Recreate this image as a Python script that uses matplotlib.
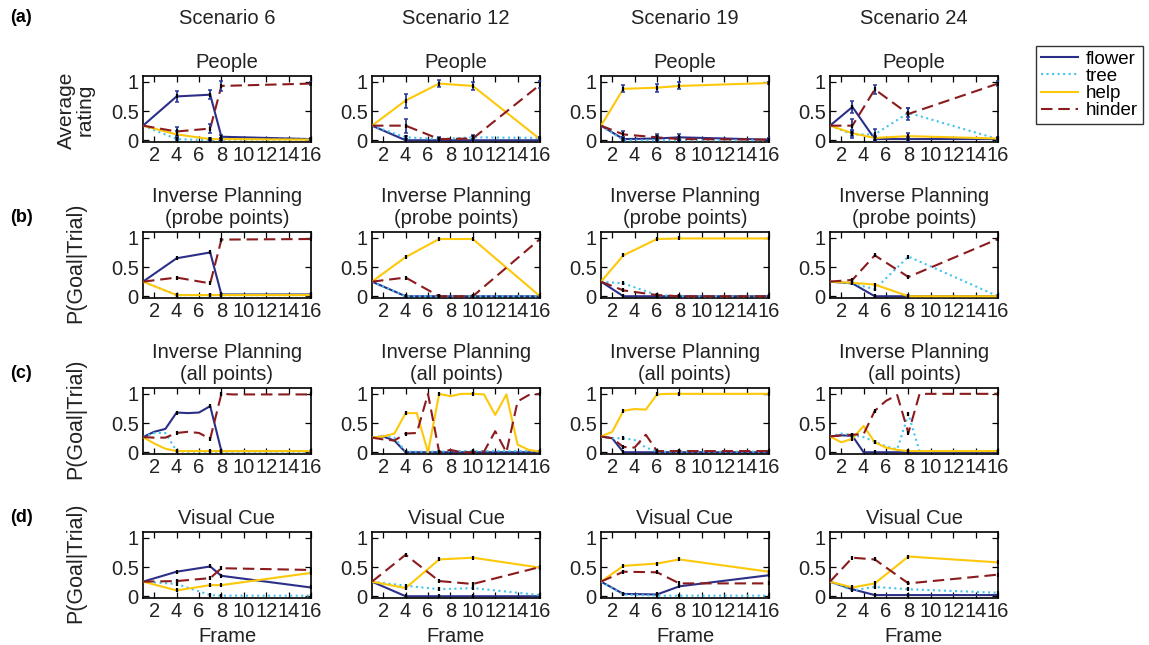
import matplotlib
matplotlib.use("Agg")
import matplotlib.pyplot as plt
from matplotlib.lines import Line2D

plt.rcParams['font.family'] = ['Liberation Sans', 'DejaVu Sans']

# --- data ---------------------------------------------------------------
scenarios = ["Scenario 6", "Scenario 12", "Scenario 19", "Scenario 24"]
probe_frames = [[1, 4, 7, 8, 16], [1, 4, 7, 10, 16], [1, 3, 6, 8, 16], [1, 3, 5, 8, 16]]
all_frames = [1, 2, 3, 4, 5, 6, 7, 8, 9, 10, 11, 12, 13, 14, 15, 16]
series_names = ["flower", "tree", "help", "hinder"]

# (a) People: average rating at probe points
people_flower = [[.25, .75, .78, .06, .02], [.25, .0, .0, .0, .0], [.25, .02, .03, .05, .01], [.25, .57, .02, .02, .02]]
people_tree = [[.25, .02, .0, .01, .01], [.25, .05, .02, .05, .04], [.25, .0, .0, .0, .0], [.25, .1, .1, .47, .02]]
people_help = [[.25, .1, .02, .02, .01], [.25, .68, .97, .93, .02], [.25, .88, .9, .93, .98], [.25, .12, .04, .07, .03]]
people_hinder = [[.25, .15, .2, .93, .97], [.25, .25, .02, .03, .95], [.25, .1, .05, .02, .01], [.25, .25, .87, .45, .97]]
# error bar half-widths
people_flower_err = [[0, .09, .08, .03, .02], [0, .02, .01, .02, .02], [0, .03, .05, .06, .02], [0, .1, .04, .03, .02]]
people_tree_err = [[0, .02, .01, .02, .01], [0, .03, .02, .04, .02], [0, .02, .02, .02, .01], [0, .06, .1, .08, .02]]
people_help_err = [[0, .05, .02, .02, .02], [0, .12, .06, .07, .03], [0, .06, .07, .06, .02], [0, .05, .04, .05, .03]]
people_hinder_err = [[0, .07, .08, .08, .02], [0, .12, .03, .05, .06], [0, .05, .06, .03, .02], [0, .12, .07, .1, .04]]

# (b) Inverse planning, probe points
probe_flower = [[.25, .65, .75, .03, .03], [.25, .0, .0, .0, .0], [.25, .0, .0, .0, .0], [.25, .22, .0, .0, .0]]
probe_tree = [[.25, .02, .02, .02, .02], [.25, .0, .0, .0, .0], [.25, .22, .02, .0, .0], [.25, .22, .12, .68, .0]]
probe_help = [[.25, .02, .02, .02, .02], [.25, .67, .98, .98, .0], [.25, .7, .98, .99, .99], [.25, .23, .2, .0, .0]]
probe_hinder = [[.25, .32, .22, .97, .98], [.25, .32, .0, .0, .98], [.25, .1, .02, .0, .0], [.25, .28, .7, .33, .98]]

# (c) Inverse planning, all frames
allpts_flower = [
    [.26, .35, .40, .68, .67, .68, .79, .02, .02, .02, .02, .02, .02, .02, .02, .02],
    [.25, .27, .20, .0, .0, .0, .0, .0, .0, .0, .0, .0, .0, .0, .0, .0],
    [.27, .24, .0, .0, .0, .0, .0, .0, .0, .0, .0, .0, .0, .0, .0, .0],
    [.27, .29, .28, .0, .0, .0, .0, .0, .0, .0, .0, .0, .0, .0, .0, .0],
]
allpts_tree = [
    [.26, .33, .33, .02, .01, .01, .01, .01, .01, .01, .01, .01, .01, .01, .01, .01],
    [.25, .28, .25, .01, .01, .01, .01, .02, .02, .02, .02, .02, .02, .02, .02, .02],
    [.27, .24, .24, .21, .08, .01, .01, .01, .01, .01, .01, .01, .01, .01, .01, .01],
    [.27, .32, .29, .26, .18, .10, .05, .65, .02, .02, .02, .02, .02, .02, .02, .02],
]
allpts_help = [
    [.26, .15, .06, .02, .02, .02, .02, .02, .02, .02, .02, .02, .02, .02, .02, .02],
    [.25, .27, .32, .67, .67, .0, 1.0, .96, 1.0, 1.0, .99, .64, .99, .13, .04, .01],
    [.27, .35, .71, .74, .73, .99, 1.0, 1.0, 1.0, 1.0, 1.0, 1.0, 1.0, 1.0, 1.0, 1.0],
    [.27, .17, .23, .45, .17, .08, .04, .02, .02, .02, .02, .02, .02, .02, .02, .02],
]
allpts_hinder = [
    [.26, .25, .25, .33, .35, .33, .23, 1.0, .99, .99, .99, .99, .99, .99, .99, .99],
    [.25, .22, .20, .32, .33, 1.0, .0, .04, .0, .0, .01, .36, .0, .87, .98, 1.0],
    [.27, .24, .09, .08, .30, .02, .02, .02, .02, .02, .02, .02, .02, .02, .02, .02],
    [.27, .29, .30, .31, .71, .88, .98, .33, 1.0, 1.0, 1.0, 1.0, 1.0, 1.0, 1.0, 1.0],
]

# (d) Visual cue, probe points
cue_flower = [[.25, .42, .51, .35, .15], [.25, .0, .0, .0, .0], [.25, .04, .03, .17, .36], [.25, .12, .02, .02, .02]]
cue_tree = [[.25, .21, .02, .01, .01], [.25, .18, .12, .14, .02], [.25, .03, .01, .01, .01], [.25, .1, .16, .12, .06]]
cue_help = [[.25, .1, .19, .19, .4], [.25, .14, .63, .66, .49], [.25, .52, .56, .63, .42], [.25, .15, .22, .68, .58]]
cue_hinder = [[.25, .26, .31, .48, .45], [.25, .71, .26, .21, .5], [.25, .42, .41, .22, .22], [.25, .66, .63, .22, .37]]

# --- styling ------------------------------------------------------------
colors = {"flower": "#2b2f88", "tree": "#45c3ee", "help": "#fdc80a", "hinder": "#8c1b1e"}
styles = {"flower": dict(ls="-"), "tree": dict(ls=":"), "help": dict(ls="-"),
          "hinder": dict(ls=(0, (5.5, 2.8)))}
errcolor = "#2b3a96"
txt = "#222222"

W, H = 1149, 645
lefts = [143, 372, 601, 830]
tops = [76, 232, 388, 532]
aw, ah = 168, 66

row_titles = ["People", "Inverse Planning\n(probe points)", "Inverse Planning\n(all points)", "Visual Cue"]
row_data = [
    [people_flower, people_tree, people_help, people_hinder],
    [probe_flower, probe_tree, probe_help, probe_hinder],
    [allpts_flower, allpts_tree, allpts_help, allpts_hinder],
    [cue_flower, cue_tree, cue_help, cue_hinder],
]
people_err = [people_flower_err, people_tree_err, people_help_err, people_hinder_err]

fig = plt.figure(figsize=(W / 100, H / 100), dpi=100)

for r in range(4):
    for c in range(4):
        ax = fig.add_axes([lefts[c] / W, 1 - (tops[r] + ah) / H, aw / W, ah / H])
        pf = probe_frames[c]
        for k, name in enumerate(series_names):
            vals = row_data[r][k][c]
            if r == 2:
                ax.plot(all_frames, vals, color=colors[name], lw=1.5, **styles[name], zorder=2 + k)
                # black marks only at the probe frames
                ax.plot(pf[1:], [vals[f - 1] for f in pf[1:]], ls="none", marker="|",
                        ms=3, mew=1.6, color="k", zorder=10)
            else:
                ax.plot(pf, vals, color=colors[name], lw=1.5, **styles[name], zorder=2 + k)
                if r == 0:
                    ax.errorbar(pf[1:], vals[1:], yerr=people_err[k][c][1:], fmt="none",
                                ecolor=errcolor, elinewidth=1.3, capsize=1.5, capthick=1.1, zorder=8)
                ax.plot(pf[1:], vals[1:], ls="none", marker="|", ms=3, mew=1.6, color="k", zorder=10)
        ax.set_xlim(1, 16)
        ax.set_ylim(-0.03, 1.1)
        ax.set_xticks([2, 4, 6, 8, 10, 12, 14, 16])
        ax.set_yticks([0, 0.5, 1])
        ax.set_yticklabels(["0", "0.5", "1"])
        ax.tick_params(direction="in", top=True, right=True, length=4, width=0.9,
                       labelsize=14.5, pad=3, colors="black", labelcolor=txt)
        for sp in ax.spines.values():
            sp.set_linewidth(1.2)
        ax.set_title(row_titles[r], fontsize=14.5, pad=6, color=txt, linespacing=1.15)
        if r == 3:
            ax.set_xlabel("Frame", fontsize=14.5, labelpad=4, color=txt)

# column headers
for c in range(4):
    fig.text((lefts[c] + aw / 2) / W, 1 - 19 / H, scenarios[c], ha="center", va="center",
             fontsize=14.5, color=txt)

# panel letters
for lab, y in zip(["(a)", "(b)", "(c)", "(d)"], [18, 218, 373, 518]):
    fig.text(10 / W, 1 - y / H, lab, ha="left", va="center", fontsize=13, fontweight="bold")

# y labels
fig.text(76 / W, 1 - 110 / H, "Average\nrating", rotation=90, ha="center", va="center",
         fontsize=15, color=txt, linespacing=1.0)
for r in range(1, 4):
    fig.text(76 / W, 1 - (tops[r] + ah / 2 - 2) / H, "P(Goal|Trial)", rotation=90,
             ha="center", va="center", fontsize=15.5, color=txt)

# legend
handles = [Line2D([], [], color=colors[n], lw=1.5, **styles[n]) for n in series_names]
leg = fig.legend(handles, series_names, loc="upper left",
                 bbox_to_anchor=(1036 / W, 1 - 46 / H), fontsize=13.5, frameon=True,
                 fancybox=False, edgecolor="black", borderpad=0.25, labelspacing=0.0,
                 handlelength=2.0, handletextpad=0.4, borderaxespad=0)
leg.get_frame().set_linewidth(1.0)

fig.savefig("out.png", dpi=100)
